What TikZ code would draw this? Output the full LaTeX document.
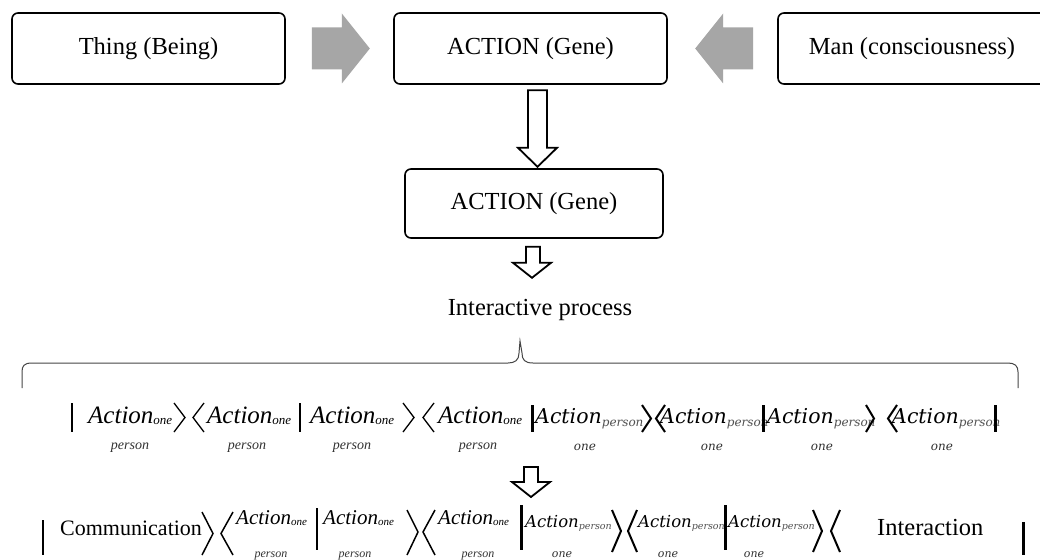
\documentclass[tikz,border=0pt]{standalone}
\usepackage{fontspec}
\setmainfont{Liberation Serif}
\newfontfamily\mathlike{DejaVu Serif}
\usetikzlibrary{calc}
\definecolor{arrowgray}{RGB}{166,166,166}
\definecolor{labgray}{RGB}{50,50,50}
\definecolor{subgray}{RGB}{80,80,80}
\definecolor{bracegray}{RGB}{70,70,70}
\newcommand{\actone}[3]{{\fontsize{#1}{#1}\selectfont\itshape Action}{\fontsize{#2}{#2}\selectfont\itshape\raisebox{#3}{one}}}
\newcommand{\actper}[3]{{\mathlike\fontsize{#1}{#1}\selectfont\itshape Action}{\mathlike\fontsize{#2}{#2}\selectfont\itshape\color{subgray}\raisebox{#3}{person}}}
\tikzset{
  x=1pt, y=-1pt,
  box/.style={draw, line width=1.6pt, rounded corners=6pt, inner sep=0pt, font=\fontsize{24.5}{29}\selectfont},
  bigtxt/.style={inner sep=0pt, font=\fontsize{24.5}{29}\selectfont},
  garrow/.style={fill=arrowgray, draw=none},
  harrow/.style={draw, line width=1.8pt, fill=white, line join=miter},
  ital/.style={inner sep=0pt, anchor=base west},
  lab/.style={inner sep=0pt, anchor=base, text=labgray},
  bracestroke/.style={draw=bracegray, line width=1pt},
  barline/.style={line width=#1, line cap=butt},
  angline/.style={line width=#1, line join=miter},
}
\begin{document}
\begin{tikzpicture}
\fill[white] (0,0) rectangle (1040,559);
\useasboundingbox (0,0) rectangle (1040,559);

% top boxes
\node[box, minimum width=273pt, minimum height=71pt] (b1) at (148.5,48.5) {Thing (Being)};
\node[box, minimum width=273pt, minimum height=71pt] (b2) at (530.5,48.5) {ACTION (Gene)};
\node[box, minimum width=268pt, minimum height=71pt] (b3) at (912,48.5) {Man (consciousness)};
\node[box, minimum width=258pt, minimum height=69pt] (b4) at (534,203.5) {ACTION (Gene)};

% gray block arrows
\fill[garrow, shift={(b1.east)}] (26,-21) -- (56,-21) -- (56,-35) -- (84,0) -- (56,35) -- (56,21) -- (26,21) -- cycle;
\fill[garrow, shift={(b3.west)}] (-82,0) -- (-54,-35) -- (-54,-21) -- (-24,-21) -- (-24,21) -- (-54,21) -- (-54,35) -- cycle;

% hollow arrows
\draw[harrow, shift={(b2.south)}] (-2.5,5.5) -- (16.5,5.5) -- (16.5,63) -- (26.5,63) -- (7,82) -- (-12.5,63) -- (-2.5,63) -- cycle;
\draw[harrow, shift={(b4.south)}] (-8,8) -- (6,8) -- (6,24) -- (17,24) -- (-2,39) -- (-21,24) -- (-8,24) -- cycle;

\node[bigtxt, anchor=base] (ip) at (540,315) {Interactive process};

% brace
\draw[bracestroke] (22,388) -- (22,372) .. controls (22,366) and (24,363) .. (32,363) -- (508,363) .. controls (515,363) and (519,360) .. (519,353) -- (520,341) -- (522,353) .. controls (522,360) and (525,363) .. (533,363) -- (1008,363) .. controls (1015,363) and (1018,366) .. (1018,372) -- (1018,388);

% row 1
\draw[barline=1.5pt] (72,403) -- (72,432);
\node[ital] (r1a1) at (88,423) {\actone{25}{13}{-1.5pt}};
\draw[angline=1.3pt] (174,403) -- (185,417.5) -- (174,432);
\draw[angline=1.3pt] (204,403) -- (193,417.5) -- (204,432);
\node[ital] (r1a2) at (207,423) {\actone{25}{13}{-1.5pt}};
\draw[barline=2pt] (300,403) -- (300,432);
\node[ital] (r1a3) at (310,423) {\actone{25}{13}{-1.5pt}};
\draw[angline=1.3pt] (403,403) -- (414,417.5) -- (403,432);
\draw[angline=1.3pt] (434,403) -- (423,417.5) -- (434,432);
\node[ital] (r1a4) at (438,423) {\actone{25}{13}{-1.5pt}};
\draw[barline=3pt] (532,405) -- (532,432);
\node[ital] (r1m1) at (535,423) {\actper{20.5}{12}{-3pt}};
\draw[angline=2pt] (642,405) -- (651,418.5) -- (642,432);
\draw[angline=2pt] (665,405) -- (656,418.5) -- (665,432);
\node[ital] (r1m2) at (660,423) {\actper{20.5}{12}{-3pt}};
\draw[barline=3pt] (763,405) -- (763,432);
\node[ital] (r1m3) at (767,423) {\actper{20.5}{12}{-3pt}};
\draw[angline=2pt] (866,405) -- (874,418.5) -- (866,432);
\draw[angline=2pt] (897,405) -- (888,418.5) -- (897,432);
\node[ital] (r1m4) at (892,423) {\actper{20.5}{12}{-3pt}};
\draw[barline=3pt] (995,405) -- (995,432);

\node[lab] (r1p1) at (130,449) {\fontsize{14}{14}\selectfont\itshape person};
\node[lab] (r1p2) at (247,449) {\fontsize{14}{14}\selectfont\itshape person};
\node[lab] (r1p3) at (352,449) {\fontsize{14}{14}\selectfont\itshape person};
\node[lab] (r1p4) at (478,449) {\fontsize{14}{14}\selectfont\itshape person};
\node[lab] (r1o1) at (585,450) {\mathlike\fontsize{12}{12}\selectfont\itshape one};
\node[lab] (r1o2) at (712,450) {\mathlike\fontsize{12}{12}\selectfont\itshape one};
\node[lab] (r1o3) at (822,450) {\mathlike\fontsize{12}{12}\selectfont\itshape one};
\node[lab] (r1o4) at (942,450) {\mathlike\fontsize{12}{12}\selectfont\itshape one};

% arrow between rows
\coordinate (a3) at (531,467);
\draw[harrow, shift={(a3)}] (-7,0) -- (7,0) -- (7,15) -- (19,15) -- (0,30) -- (-19,15) -- (-7,15) -- cycle;

% row 2
\draw[barline=2.5pt] (43,520) -- (43,555);
\node[ital, font=\fontsize{22}{26}\selectfont] (comm) at (60,535) {Communication};
\draw[angline=1.5pt] (202,512) -- (213,533.5) -- (202,555);
\draw[angline=1.5pt] (233,512) -- (221,533.5) -- (233,555);
\node[ital] (r2a1) at (236,524) {\actone{21}{11}{-1pt}};
\draw[barline=2.5pt] (317,508) -- (317,550);
\node[ital] (r2a2) at (323,524) {\actone{21}{11}{-1pt}};
\draw[angline=1.5pt] (407,510) -- (418,532) -- (407,555);
\draw[angline=1.5pt] (435,510) -- (423,532) -- (435,555);
\node[ital] (r2a3) at (438,524) {\actone{21}{11}{-1pt}};
\draw[barline=3pt] (521,505) -- (521,550);
\node[ital] (r2m1) at (525,527) {\actper{16.5}{9.5}{-2.5pt}};
\draw[angline=2pt] (612,510) -- (621,531) -- (612,552);
\draw[angline=2pt] (637,510) -- (628,531) -- (637,552);
\node[ital] (r2m2) at (638,527) {\actper{16.5}{9.5}{-2.5pt}};
\draw[barline=3pt] (725,505) -- (725,550);
\node[ital] (r2m3) at (728,527) {\actper{16.5}{9.5}{-2.5pt}};
\draw[angline=2pt] (813,510) -- (822,531) -- (813,552);
\draw[angline=2pt] (840,510) -- (831,531) -- (840,552);
\node[bigtxt, anchor=base west] (inter) at (877,535) {Interaction};
\draw[barline=3pt] (1023,522) -- (1023,555);

\node[lab] (r2p1) at (271,557) {\fontsize{12}{12}\selectfont\itshape person};
\node[lab] (r2p2) at (355,557) {\fontsize{12}{12}\selectfont\itshape person};
\node[lab] (r2p3) at (478,557) {\fontsize{12}{12}\selectfont\itshape person};
\node[lab] (r2o1) at (562,557) {\mathlike\fontsize{11}{11}\selectfont\itshape one};
\node[lab] (r2o2) at (668,557) {\mathlike\fontsize{11}{11}\selectfont\itshape one};
\node[lab] (r2o3) at (754,557) {\mathlike\fontsize{11}{11}\selectfont\itshape one};
\end{tikzpicture}
\end{document}
